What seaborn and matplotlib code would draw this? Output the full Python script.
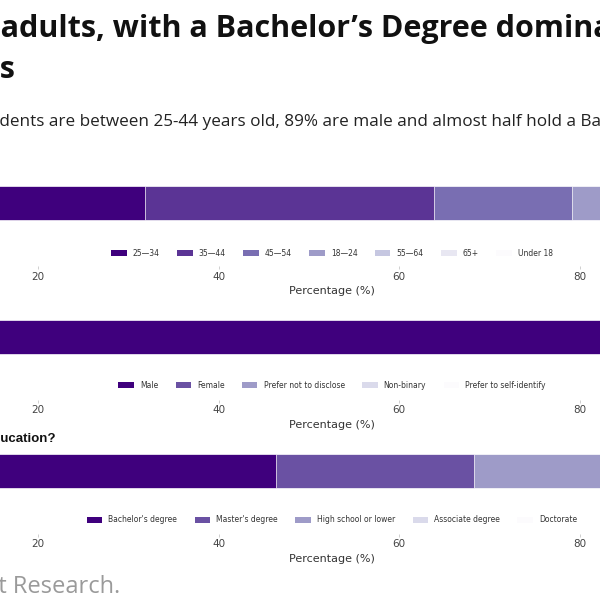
import matplotlib
matplotlib.use("Agg")
import matplotlib.pyplot as plt
from matplotlib.patches import Patch
import numpy as np
import seaborn as sns

# ---------------- data ----------------
title_line1 = "Most respondents are young adults, with a Bachelor’s Degree dominating"
title_line2 = "education levels and qualifications"
subtitle = ("64% of respondents are between 25-44 years old, 89% are male and almost "
            "half hold a Bachelor’s degree.")
source_text = "Source: Developer survey, Insight Research."

age_question = "What is your age?"
age_labels = ["25—34", "35—44", "45—54", "18—24", "55—64", "65+", "Under 18"]
age_values = [31.9, 31.9, 15.3, 10.4, 7.6, 2.0, 0.9]

gender_question = "What is your gender?"
gender_labels = ["Male", "Female", "Prefer not to disclose", "Non-binary",
                 "Prefer to self-identify"]
gender_values = [89.0, 8.5, 1.5, 0.7, 0.3]

edu_question = "What is your highest level of education?"
edu_labels = ["Bachelor's degree", "Master's degree", "High school or lower",
              "Associate degree", "Doctorate"]
edu_values = [46.4, 21.9, 17.6, 9.3, 4.8]

x_ticks = [20, 40, 60, 80]

# ---------------- style ----------------
sns.set_theme(style="white")
plt.rcParams["font.family"] = ["DejaVu Sans"]

W = H = 600
fig = plt.figure(figsize=(6, 6), dpi=100)
fig.patch.set_facecolor("white")
renderer = fig.canvas.get_renderer()


def fx(px):
    return px / W


def fy(py):
    return 1 - py / H


def text_width(s, **kw):
    t = fig.text(0, 0, s, **kw)
    w = t.get_window_extent(renderer).width
    t.remove()
    return w


def prefix_width(s, **kw):
    return text_width(s + "|", **kw) - text_width("|", **kw)


# axis geometry (pixels)
px_per_unit = 9.033
x0_px = -142.7
x_max = 105
ax_left = x0_px
ax_width = x_max * px_per_unit
bar_px = 34.0
unit_px = bar_px / 0.8
above_px = 23.0
below_px = 63.0

sections = [
    (age_question, age_labels, age_values, 203.0, 253.0),
    (gender_question, gender_labels, gender_values, 336.5, 385.0),
    (edu_question, edu_labels, edu_values, 470.5, 520.0),
]

for question, labels, values, yc, leg_y in sections:
    top = yc - above_px
    bottom = yc + below_px
    ax = fig.add_axes([fx(ax_left), fy(bottom), ax_width / W, (bottom - top) / H])
    ax.set_facecolor("none")
    n = len(labels)
    colors = plt.cm.Purples_r(np.linspace(0, 1, n))
    cums = np.cumsum(values)
    for i in reversed(range(n)):
        sns.barplot(x=[cums[i]], y=[question], color=colors[i], orient="h",
                    ax=ax, width=0.8, saturation=1, errorbar=None,
                    edgecolor="white", linewidth=0.5)
    ax.set_xlim(0, x_max)
    ax.set_ylim(below_px / unit_px, -above_px / unit_px)
    ax.set_yticks([])
    ax.set_ylabel("")
    ax.set_xticks(x_ticks)
    ax.set_xticklabels([str(t) for t in x_ticks])
    ax.tick_params(axis="x", length=2, width=0.6, color="#c8c8c8",
                   labelsize=7.5, labelcolor="#444444", pad=2, bottom=True)
    ax.set_xlabel("Percentage (%)", fontsize=8, color="#333333", labelpad=3.5)
    sns.despine(ax=ax, left=True, bottom=True)
    handles = [Patch(facecolor=colors[i], edgecolor="none") for i in range(n)]
    fig.legend(handles, labels, loc="center",
               bbox_to_anchor=(fx(332), fy(leg_y)), ncol=n, frameon=False,
               fontsize=5.5, handlelength=2.0, handleheight=0.7,
               handletextpad=0.8, columnspacing=2.3, labelcolor="#333333")

# ---------------- texts ----------------
title_kw = dict(fontsize=22, fontweight="bold", family=["Open Sans", "DejaVu Sans"],
                color="#111111", va="baseline")
k = title_line1.index("adults")
fig.text(fx(1 - prefix_width(title_line1[:k], **title_kw)), fy(37), title_line1,
         ha="left", **title_kw)
fig.text(fx(15), fy(78), title_line2, ha="right", **title_kw)

sub_kw = dict(fontsize=12.3, family=["Open Sans", "DejaVu Sans"], color="#222222",
              va="baseline")
k = subtitle.index("dents")
fig.text(fx(-1 - prefix_width(subtitle[:k], **sub_kw)), fy(126), subtitle,
         ha="left", **sub_kw)

# only the education question title reaches into the visible area
sec_kw = dict(fontsize=9.5, fontweight="bold", family=["Liberation Sans", "DejaVu Sans"],
              color="#111111", va="baseline")
fig.text(fx(55), fy(sections[2][3] - 28.5), edu_question, ha="right", **sec_kw)

src_kw = dict(fontsize=17, family=["Open Sans", "DejaVu Sans"], color="#9a9a9a",
              va="baseline")
fig.text(fx(120), fy(593), source_text, ha="right", **src_kw)

fig.savefig("out.png", dpi=100, facecolor="white")
